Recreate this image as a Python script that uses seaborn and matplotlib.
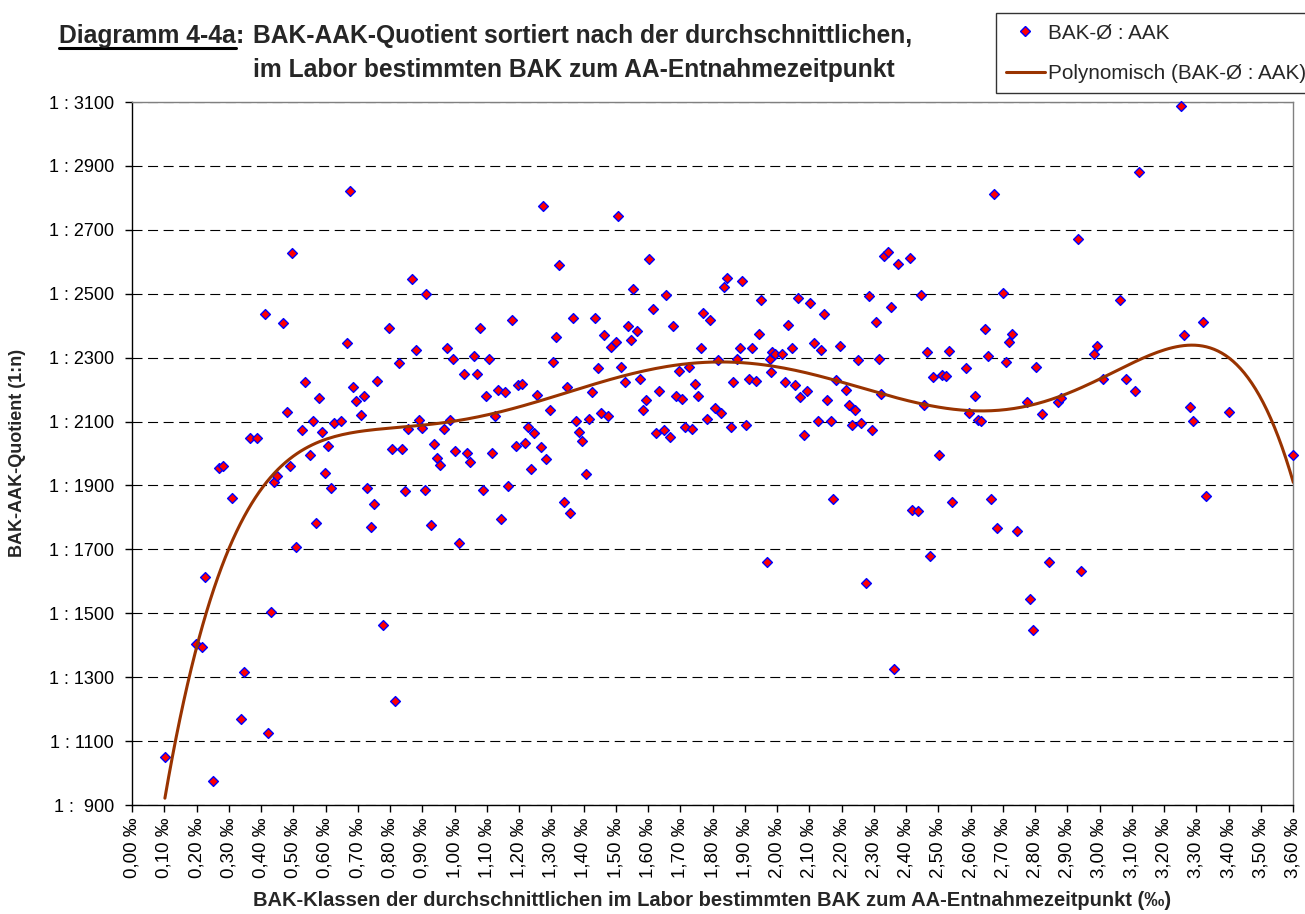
import matplotlib
matplotlib.use("Agg")

import numpy as np
import pandas as pd
import matplotlib.pyplot as plt
from matplotlib.lines import Line2D
from matplotlib.ticker import MultipleLocator, FuncFormatter
import seaborn as sns


# BAK-Ø (‰) and BAK-AAK quotient (1:n)
# x 0.10 - 0.99
bak_a = [0.102, 0.198, 0.218, 0.227, 0.252, 0.270, 0.281, 0.310, 0.339, 0.347,
         0.367, 0.388, 0.411, 0.422, 0.430, 0.440, 0.451, 0.469, 0.480, 0.489,
         0.497, 0.507, 0.527, 0.536, 0.551, 0.560, 0.572, 0.580, 0.589, 0.599,
         0.609, 0.618, 0.627, 0.647, 0.667, 0.677, 0.686, 0.696, 0.711, 0.720,
         0.730, 0.740, 0.749, 0.759, 0.778, 0.798, 0.807, 0.816, 0.827, 0.836,
         0.845, 0.856, 0.869, 0.880, 0.889, 0.898, 0.909, 0.913, 0.927, 0.936,
         0.947, 0.956, 0.966, 0.976, 0.986]
quot_a = [1050, 1405, 1395, 1615, 975, 1955, 1960, 1862, 1170, 1315,
          2048, 2048, 2437, 1125, 1505, 1910, 1931, 2408, 2131, 1960,
          2627, 1706, 2072, 2223, 1994, 2101, 1784, 2174, 2066, 1940,
          2023, 1891, 2096, 2101, 2345, 2822, 2208, 2165, 2121, 2179,
          1891, 1770, 1842, 2228, 1463, 2392, 2013, 1224, 2282, 2013,
          1882, 2077, 2545, 2325, 2106, 2081, 1887, 2499, 1775, 2029,
          1985, 1965, 2077, 2330, 2104]

# x 0.99 - 1.82
bak_b = [0.995, 1.000, 1.015, 1.030, 1.040, 1.048, 1.059, 1.070, 1.078, 1.087,
         1.098, 1.107, 1.115, 1.127, 1.136, 1.145, 1.157, 1.165, 1.179, 1.190,
         1.198, 1.210, 1.218, 1.227, 1.237, 1.247, 1.256, 1.267, 1.275, 1.285,
         1.295, 1.304, 1.314, 1.324, 1.338, 1.349, 1.359, 1.368, 1.378, 1.387,
         1.396, 1.407, 1.417, 1.425, 1.435, 1.446, 1.454, 1.463, 1.476, 1.484,
         1.500, 1.508, 1.517, 1.528, 1.537, 1.546, 1.555, 1.566, 1.575, 1.585,
         1.595, 1.604, 1.614, 1.624, 1.633, 1.649, 1.657, 1.667, 1.677, 1.686,
         1.696, 1.706, 1.716, 1.726, 1.737, 1.745, 1.755, 1.764, 1.771, 1.784,
         1.793, 1.807, 1.818]
quot_b = [2296, 2009, 1721, 2248, 2002, 1974, 2306, 2248, 2394, 1886,
          2179, 2296, 2002, 2117, 2199, 1795, 2194, 1897, 2418, 2025,
          2214, 2219, 2033, 2082, 1950, 2063, 2184, 2021, 2773, 1984,
          2137, 2287, 2365, 2589, 1848, 2208, 1815, 2423, 2103, 2068,
          2039, 1935, 2107, 2194, 2423, 2267, 2127, 2370, 2118, 2334,
          2350, 2744, 2272, 2224, 2400, 2354, 2516, 2383, 2233, 2137,
          2166, 2608, 2453, 2063, 2195, 2073, 2496, 2053, 2399, 2179,
          2258, 2171, 2082, 2272, 2078, 2219, 2179, 2330, 2440, 2107,
          2418, 2142, 2292]

# x 1.82 - 2.71
bak_c = [1.826, 1.836, 1.846, 1.856, 1.865, 1.875, 1.885, 1.893, 1.905, 1.913,
         1.923, 1.934, 1.943, 1.951, 1.969, 1.978, 1.980, 1.986, 1.994, 2.016,
         2.026, 2.035, 2.045, 2.055, 2.064, 2.072, 2.083, 2.094, 2.102, 2.116,
         2.126, 2.136, 2.146, 2.155, 2.166, 2.175, 2.184, 2.194, 2.213, 2.223,
         2.232, 2.242, 2.252, 2.262, 2.276, 2.286, 2.296, 2.306, 2.316, 2.323,
         2.333, 2.345, 2.355, 2.363, 2.374, 2.411, 2.420, 2.436, 2.445, 2.455,
         2.465, 2.473, 2.484, 2.503, 2.513, 2.523, 2.532, 2.543, 2.585, 2.594,
         2.614, 2.624, 2.634, 2.644, 2.653, 2.664, 2.672, 2.682, 2.702, 2.710]
quot_c = [2127, 2520, 2550, 2082, 2224, 2296, 2330, 2541, 2088, 2233,
          2330, 2228, 2374, 2481, 1662, 2297, 2254, 2318, 2310, 2312,
          2224, 2403, 2330, 2214, 2487, 2176, 2057, 2195, 2471, 2345,
          2101, 2324, 2438, 2166, 2101, 1857, 2229, 2335, 2199, 2151,
          2088, 2137, 2292, 2096, 1595, 2492, 2072, 2413, 2296, 2187,
          2617, 2632, 2457, 1327, 2594, 2613, 1824, 1819, 2496, 2151,
          2317, 1678, 2239, 1994, 2247, 2242, 2321, 1848, 2267, 2126,
          2179, 2106, 2101, 2389, 2306, 1858, 2813, 1766, 2501, 2287]

# x 2.72 - 3.60
bak_d = [2.720, 2.730, 2.745, 2.774, 2.783, 2.793, 2.803, 2.822, 2.842, 2.870,
         2.880, 2.933, 2.944, 2.982, 2.991, 3.012, 3.064, 3.082, 3.111, 3.122,
         3.253, 3.261, 3.280, 3.291, 3.320, 3.330, 3.401, 3.601]
quot_d = [2350, 2375, 1759, 2161, 1545, 1448, 2272, 2125, 1662, 2160,
          2175, 2671, 1633, 2311, 2335, 2233, 2481, 2233, 2195, 2880,
          3086, 2370, 2146, 2101, 2413, 1867, 2131, 1994]

y_ticks = [900, 1100, 1300, 1500, 1700, 1900, 2100, 2300, 2500, 2700, 2900, 3100]
y_tick_labels = ["1 :  900", "1 : 1100", "1 : 1300", "1 : 1500", "1 : 1700",
                 "1 : 1900", "1 : 2100", "1 : 2300", "1 : 2500", "1 : 2700",
                 "1 : 2900", "1 : 3100"]

TREND_COLOR = "#993300"
W, H = 1305, 914


def fx(px):
    return px / W


def fy(py):
    return 1 - py / H


df = pd.DataFrame({
    "bak": bak_a + bak_b + bak_c + bak_d,
    "quot": quot_a + quot_b + quot_c + quot_d,
})

# polynomial trend (order 6), like the spreadsheet trendline
coef = np.polyfit(df["bak"], df["quot"], 6)
trend = pd.DataFrame({"bak": np.linspace(df["bak"].min(), df["bak"].max(), 300)})
trend["quot"] = np.polyval(coef, trend["bak"])

sns.set_theme(style="white")
plt.rcParams["font.family"] = ["Liberation Sans", "DejaVu Sans"]

fig = plt.figure(figsize=(W / 100, H / 100), dpi=100)
ax = fig.add_axes([fx(132), fy(805), fx(1293 - 132), (805 - 102) / H])

sns.scatterplot(data=df, x="bak", y="quot", marker="D", s=25, color="red",
                edgecolor="blue", linewidth=1.0, ax=ax, zorder=3, clip_on=False,
                legend=False)
sns.lineplot(data=trend, x="bak", y="quot", color=TREND_COLOR, lw=2.2, ax=ax,
             zorder=4, sort=False)

ax.set_xlim(0, 3.6)
ax.set_ylim(900, 3100)
ax.xaxis.set_major_locator(MultipleLocator(0.1))
ax.xaxis.set_major_formatter(FuncFormatter(lambda v, pos: f"{v:.2f} ‰".replace(".", ",")))
ax.set_yticks(y_ticks)
ax.set_yticklabels(y_tick_labels)
ax.tick_params(axis="x", labelrotation=90, labelsize=13.5, direction="out",
               length=5, width=1, pad=4, colors="black", bottom=True)
ax.tick_params(axis="y", labelsize=13, direction="out", length=5, width=1,
               pad=8, colors="black", left=True)
ax.set_xlabel("")
ax.set_ylabel("")

ax.yaxis.grid(True, color="black", lw=0.8, linestyle=(0, (9, 5)))
ax.set_axisbelow(True)
for side in ["left", "bottom"]:
    ax.spines[side].set_color("black")
    ax.spines[side].set_linewidth(1.0)
for side in ["top", "right"]:
    ax.spines[side].set_color("#808080")
    ax.spines[side].set_linewidth(1.0)

# axis titles
fig.text(fx(712), fy(901), "BAK-Klassen der durchschnittlichen im Labor bestimmten BAK zum AA-Entnahmezeitpunkt (‰)",
         ha="center", va="center", fontsize=14.5, fontweight="bold")
fig.text(fx(18), fy(453), "BAK-AAK-Quotient (1:n)", rotation=90,
         ha="center", va="center", fontsize=13, fontweight="bold")

# title with underlined lead
title_size = 17.7
lead = fig.text(fx(59), fy(43), "Diagramm 4-4a", ha="left", va="baseline",
                fontsize=title_size, fontweight="bold")
renderer = fig.canvas.get_renderer()
bb = lead.get_window_extent(renderer)
fig.text(bb.x1 / W, fy(43), ":", ha="left", va="baseline",
         fontsize=title_size, fontweight="bold")
fig.add_artist(Line2D([bb.x0 / W, bb.x1 / W], [fy(48), fy(48)], color="black",
                      lw=2.2, transform=fig.transFigure))
fig.text(fx(253), fy(43), "BAK-AAK-Quotient sortiert nach der durchschnittlichen,",
         ha="left", va="baseline", fontsize=title_size, fontweight="bold")
fig.text(fx(253), fy(77), "im Labor bestimmten BAK zum AA-Entnahmezeitpunkt",
         ha="left", va="baseline", fontsize=title_size, fontweight="bold")

handles = [
    Line2D([], [], marker="D", linestyle="none", markersize=5,
           markerfacecolor="red", markeredgecolor="blue", markeredgewidth=1.0),
    Line2D([], [], color=TREND_COLOR, lw=2.2),
]
leg = fig.legend(handles, ["BAK-Ø : AAK", "Polynomisch (BAK-Ø : AAK)"],
                 loc="upper left", bbox_to_anchor=(fx(996), fy(13)),
                 fontsize=14.9, frameon=True, fancybox=False, shadow=False,
                 borderpad=0.5, labelspacing=1.05, handlelength=1.85,
                 handletextpad=0.15, borderaxespad=0)
leg.get_frame().set_edgecolor("black")
leg.get_frame().set_linewidth(1.0)

fig.savefig("out.png", dpi=100)
